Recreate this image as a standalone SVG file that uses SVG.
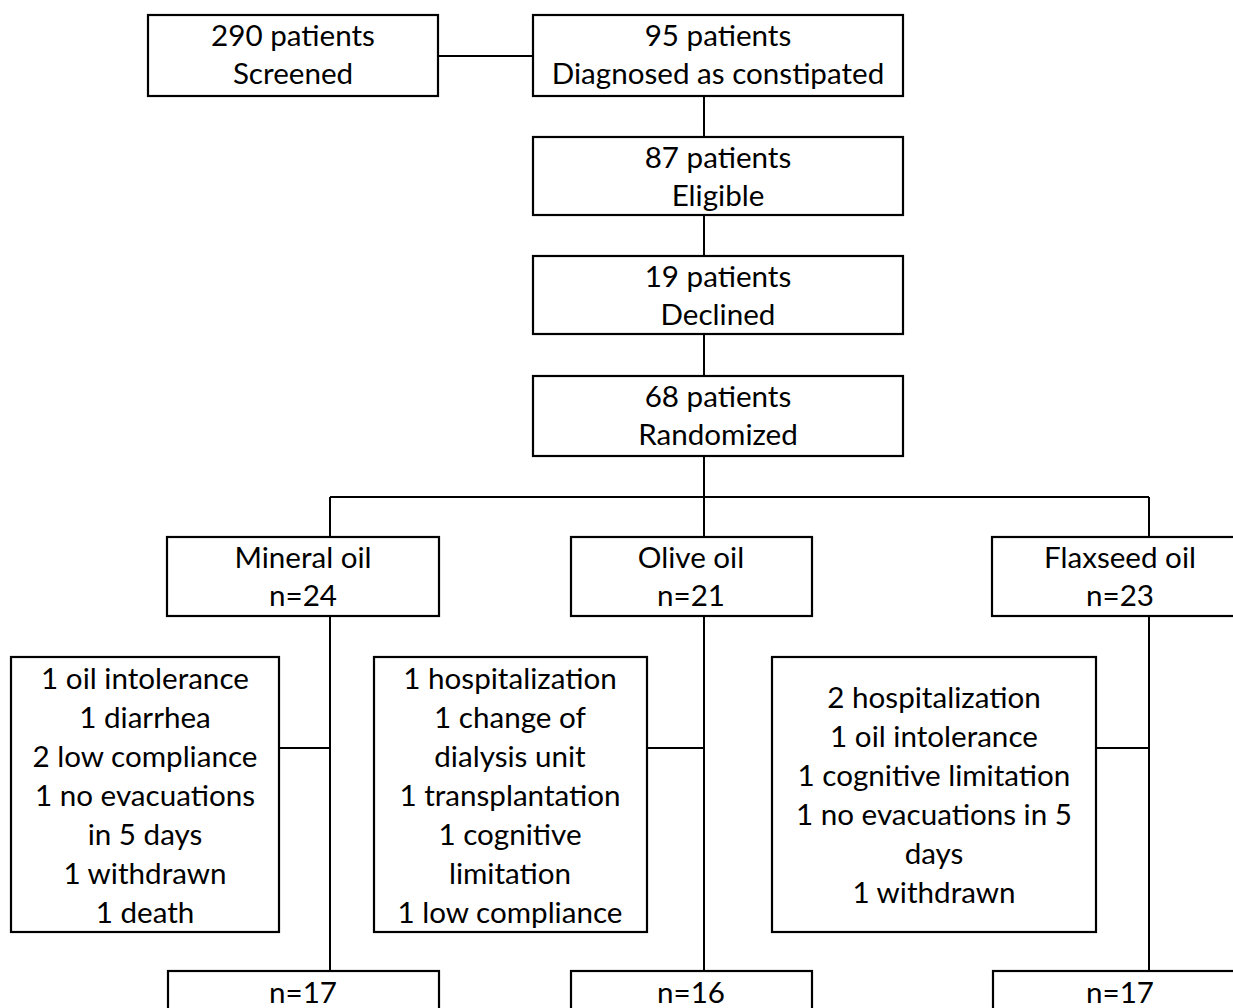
<svg xmlns="http://www.w3.org/2000/svg" width="1233" height="1008" viewBox="0 0 1233 1008">
<style>
.box{fill:#fff;stroke:#000;stroke-width:2.2}
.ln{stroke:#000;stroke-width:2;fill:none}
text{font-family:Lato,"Liberation Sans",sans-serif;font-size:29.6px;fill:#000;text-anchor:middle}
</style>
<rect width="1233" height="1008" fill="#fff"/>
<g id="connectors">
<line class="ln" x1="438" y1="56" x2="533" y2="56"/>
<line class="ln" x1="704" y1="96" x2="704" y2="137"/>
<line class="ln" x1="704" y1="215" x2="704" y2="256"/>
<line class="ln" x1="704" y1="334" x2="704" y2="376"/>
<line class="ln" x1="704" y1="456" x2="704" y2="537"/>
<line class="ln" x1="330" y1="497" x2="1149" y2="497"/>
<line class="ln" x1="330" y1="497" x2="330" y2="537"/>
<line class="ln" x1="1149" y1="497" x2="1149" y2="537"/>
<line class="ln" x1="330" y1="616" x2="330" y2="971"/>
<line class="ln" x1="704" y1="616" x2="704" y2="971"/>
<line class="ln" x1="1149" y1="616" x2="1149" y2="971"/>
<line class="ln" x1="279" y1="748" x2="330" y2="748"/>
<line class="ln" x1="647" y1="748" x2="704" y2="748"/>
<line class="ln" x1="1096" y1="748" x2="1149" y2="748"/>
</g>
<g id="screened"><rect class="box" x="148" y="15" width="290" height="81"/><text x="293" y="46">290 patients</text><text x="293" y="84">Screened</text></g>
<g id="diagnosed"><rect class="box" x="533" y="15" width="370" height="81"/><text x="718" y="46">95 patients</text><text x="718" y="84">Diagnosed as constipated</text></g>
<g id="eligible"><rect class="box" x="533" y="137" width="370" height="78"/><text x="718" y="168">87 patients</text><text x="718" y="206">Eligible</text></g>
<g id="declined"><rect class="box" x="533" y="256" width="370" height="78"/><text x="718" y="287">19 patients</text><text x="718" y="325">Declined</text></g>
<g id="randomized"><rect class="box" x="533" y="376" width="370" height="80"/><text x="718" y="407">68 patients</text><text x="718" y="445">Randomized</text></g>
<g id="mineral"><rect class="box" x="167" y="537" width="272" height="79"/><text x="303" y="568">Mineral oil</text><text x="303" y="606">n=24</text></g>
<g id="olive"><rect class="box" x="571" y="537" width="241" height="79"/><text x="691" y="568">Olive oil</text><text x="691" y="606">n=21</text></g>
<g id="flaxseed"><rect class="box" x="992" y="537" width="258" height="79"/><text x="1120" y="568">Flaxseed oil</text><text x="1120" y="606">n=23</text></g>
<g id="mineral-excl"><rect class="box" x="11" y="657" width="268" height="275"/>
<text x="145" y="689">1 oil intolerance</text><text x="145" y="728">1 diarrhea</text><text x="145" y="767">2 low compliance</text><text x="145" y="806">1 no evacuations</text><text x="145" y="845">in 5 days</text><text x="145" y="884">1 withdrawn</text><text x="145" y="923">1 death</text></g>
<g id="olive-excl"><rect class="box" x="374" y="657" width="273" height="275"/>
<text x="510" y="689">1 hospitalization</text><text x="510" y="728">1 change of</text><text x="510" y="767">dialysis unit</text><text x="510" y="806">1 transplantation</text><text x="510" y="845">1 cognitive</text><text x="510" y="884">limitation</text><text x="510" y="923">1 low compliance</text></g>
<g id="flaxseed-excl"><rect class="box" x="772" y="657" width="324" height="275"/>
<text x="934" y="708">2 hospitalization</text><text x="934" y="747">1 oil intolerance</text><text x="934" y="786">1 cognitive limitation</text><text x="934" y="825">1 no evacuations in 5</text><text x="934" y="864">days</text><text x="934" y="903">1 withdrawn</text></g>
<g id="mineral-final"><rect class="box" x="168" y="971" width="271" height="80"/><text x="303" y="1003">n=17</text></g>
<g id="olive-final"><rect class="box" x="571" y="971" width="241" height="80"/><text x="691" y="1003">n=16</text></g>
<g id="flaxseed-final"><rect class="box" x="993" y="971" width="257" height="80"/><text x="1120" y="1003">n=17</text></g>
</svg>
